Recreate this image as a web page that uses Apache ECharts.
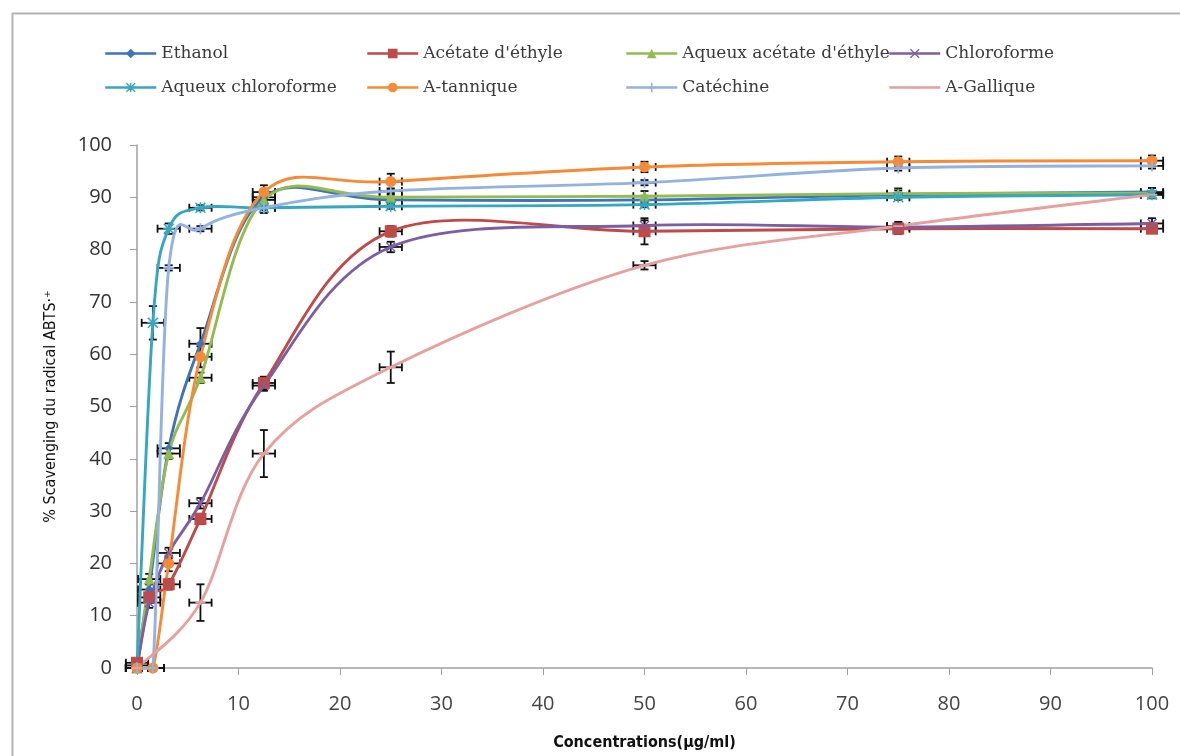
<!DOCTYPE html>
<html><head><meta charset="utf-8">
<script src="https://cdn.jsdelivr.net/npm/echarts@6/dist/echarts.min.js"></script>
<style>html,body{margin:0;padding:0;background:#fff}#c{width:1180px;height:756px}</style>
</head><body><div id="c"></div>
<script>
// ---- data ----
const seriesNames = ['Ethanol', "Acétate d'éthyle", "Aqueux acétate d'éthyle", 'Chloroforme',
  'Aqueux chloroforme', 'A-tannique', 'Catéchine', 'A-Gallique'];

const xExtraits  = [0, 1.2, 3.125, 6.25, 12.5, 25, 50, 75, 100];
const xStandards = [0, 1.5625, 3.125, 6.25, 12.5, 25, 50, 75, 100];
const xGallique  = [0, 6.25, 12.5, 25, 50, 75, 100];

const ethanol        = [0.5, 15, 42, 62, 90, 89.5, 89.5, 90.5, 91];
const acetate        = [1, 13.5, 16, 28.5, 54.5, 83.5, 83.5, 84, 84];
const aqAcetate      = [0, 17, 41, 55.5, 89.5, 90, 90.2, 90.7, 90.8];
const chloroforme    = [0, 12.5, 22, 31.5, 54, 80.5, 84.6, 84.3, 85];
const aqChloroforme  = [0, 66, 84, 88, 88, 88.3, 88.6, 90, 90.5];
const tannique       = [0, 0, 20, 59.5, 91, 93, 95.8, 96.8, 97];
const catechine      = [0, 0, 76.5, 84, 88, 91.2, 92.8, 95.6, 96];
const gallique       = [0, 12.5, 41, 57.5, 77, 84.5, 90.5];

const errEthanol       = [0.5, 1, 1, 3, 1, 1, 0.8, 0.8, 0.8];
const errAcetate       = [0.5, 1, 1, 1, 1.2, 1, 2.5, 1, 0.5];
const errAqAcetate     = [0.5, 1, 1, 1, 1, 1, 1, 1, 1];
const errChloroforme   = [0.5, 1, 1, 1, 1, 1, 1, 1, 1];
const errAqChloroforme = [0.5, 3.2, 1, 0.5, 1, 0.5, 0.5, 0.5, 0.5];
const errTannique      = [0.5, 0.5, 1.5, 2, 1.3, 1.5, 1, 1, 1];
const errCatechine     = [0.5, 0.5, 0.5, 0.5, 0.5, 0.5, 0.5, 0.5, 0.5];
const errGallique      = [0.5, 3.5, 4.5, 3, 0.8, 0.5, 0.5];
const xErrBar = 1.1;

const xTicks = [0, 10, 20, 30, 40, 50, 60, 70, 80, 90, 100];
const yTicks = [0, 10, 20, 30, 40, 50, 60, 70, 80, 90, 100];

// ---- styling ----
const xs = [xExtraits, xExtraits, xExtraits, xExtraits, xStandards, xStandards, xStandards, xGallique];
const ys = [ethanol, acetate, aqAcetate, chloroforme, aqChloroforme, tannique, catechine, gallique];
const es = [errEthanol, errAcetate, errAqAcetate, errChloroforme, errAqChloroforme, errTannique, errCatechine, errGallique];
const colors = ['#3f73ba', '#be4b48', '#93bb52', '#7c5fa3', '#36a7c2', '#f68a36', '#93b1e1', '#e6a19f'];
const SYM_X = 'path://M0,1L1,0L5,4L9,0L10,1L6,5L10,9L9,10L5,6L1,10L0,9L4,5Z';
const SYM_PLUS = 'path://M4.2,0H5.8V4.2H10V5.8H5.8V10H4.2V5.8H0V4.2H4.2Z';
const SYM_AST = 'path://M0,1L1,0L5,4L9,0L10,1L6,5L10,9L9,10L5,6L1,10L0,9L4,5Z M4.3,0H5.7V4.3H10V5.7H5.7V10H4.3V5.7H0V4.3H4.3Z';
const SYM_DASH = 'path://M0,0L0.01,0L0,0.01Z M10,10L9.99,10L10,9.99Z M0,4.1H10V5.9H0Z';
const symbols = ['diamond', 'rect', 'triangle', SYM_X, SYM_AST, 'circle', SYM_PLUS, SYM_DASH];
const symSizes = [9, 12, 11, 10, 11, 11, 11, 10];

function curveRender(xa, ya, color) {
  return function (params, api) {
    const j = params.dataIndex;
    const n = xa.length;
    if (j >= n - 1) return null;
    const p = k => { const kk = Math.max(0, Math.min(n - 1, k)); return api.coord([xa[kk], ya[kk]]); };
    const P0 = p(j - 1), P1 = p(j), P2 = p(j + 1), P3 = p(j + 2);
    const yb = api.coord([0, 0])[1];
    let c1 = [P1[0] + (P2[0] - P0[0]) / 6, P1[1] + (P2[1] - P0[1]) / 6];
    let c2 = [P2[0] - (P3[0] - P1[0]) / 6, P2[1] - (P3[1] - P1[1]) / 6];
    c1[1] = Math.min(c1[1], yb); c2[1] = Math.min(c2[1], yb);
    return {
      type: 'bezierCurve',
      shape: { x1: P1[0], y1: P1[1], x2: P2[0], y2: P2[1], cpx1: c1[0], cpy1: c1[1], cpx2: c2[0], cpy2: c2[1] },
      style: { stroke: color, lineWidth: 2.9, fill: 'none', lineCap: 'round' }
    };
  };
}

function errRender(xa, ya, ea) {
  return function (params, api) {
    const j = params.dataIndex;
    const c = api.coord([xa[j], ya[j]]);
    const t = api.coord([xa[j], ya[j] + ea[j]]);
    const b = api.coord([xa[j], ya[j] - ea[j]]);
    const l = api.coord([xa[j] - xErrBar, ya[j]]);
    const r = api.coord([xa[j] + xErrBar, ya[j]]);
    const w = 4;
    const st = { stroke: '#111', lineWidth: 1.8 };
    const ln = (x1, y1, x2, y2) => ({ type: 'line', shape: { x1, y1, x2, y2 }, style: st });
    return {
      type: 'group', children: [
        ln(c[0], t[1], c[0], b[1]),
        ln(c[0] - w, t[1], c[0] + w, t[1]),
        ln(c[0] - w, b[1], c[0] + w, b[1]),
        ln(l[0], c[1], r[0], c[1]),
        ln(l[0], c[1] - w, l[0], c[1] + w),
        ln(r[0], c[1] - w, r[0], c[1] + w)
      ]
    };
  };
}

const markerSeries = [], curveSeries = [], errSeries = [];
seriesNames.forEach((name, i) => {
  const data = xs[i].map((x, j) => [x, ys[i][j]]);
  markerSeries.push({
    name, type: 'line', data, z: 6,
    symbol: symbols[i], symbolSize: symSizes[i], showAllSymbol: true,
    itemStyle: { color: colors[i], borderWidth: 0 },
    lineStyle: { color: colors[i], width: 2.5, opacity: 0 },
    emphasis: { disabled: true }, silent: true, animation: false
  });
  curveSeries.push({
    name, type: 'custom', data, z: 4, encode: { x: 0, y: 1 },
    renderItem: curveRender(xs[i], ys[i], colors[i]),
    silent: true, animation: false
  });
  errSeries.push({
    name, type: 'custom', data, z: 3, encode: { x: 0, y: 1 },
    renderItem: errRender(xs[i], ys[i], es[i]),
    silent: true, animation: false
  });
});

const legCols = [104, 366, 625, 888];
const legRows = [45, 79];
const legends = seriesNames.map((name, i) => ({
  data: [name], left: legCols[i % 4], top: legRows[Math.floor(i / 4)], padding: 0,
  itemWidth: 51, itemHeight: 12, selectedMode: false,
  lineStyle: { opacity: 1, width: 2.5 },
  textStyle: { fontFamily: 'DejaVu Serif', fontSize: 17, color: '#3a3a3a' }
}));

const chart = echarts.init(document.getElementById('c'));
chart.setOption({
  animation: false,
  backgroundColor: '#fff',
  graphic: [{ type: 'rect', left: 10, top: 11, shape: { width: 1200, height: 800 },
    style: { fill: 'none', stroke: '#b4b4b4', lineWidth: 2 }, silent: true }],
  legend: legends,
  grid: { left: 137, right: 28, top: 145, bottom: 86, containLabel: false },
  xAxis: {
    type: 'value', min: xTicks[0], max: xTicks[xTicks.length - 1], interval: 10,
    name: 'Concentrations(µg/ml)', nameLocation: 'middle', nameGap: 67,
    nameTextStyle: { fontFamily: "'Liberation Sans Narrow', 'DejaVu Sans Condensed', 'Open Sans'", fontWeight: 'bold', fontSize: 16, color: '#111' },
    axisLine: { lineStyle: { color: '#a0a0a0', width: 1.5 } },
    axisTick: { show: true, length: 7, lineStyle: { color: '#a0a0a0' } },
    axisLabel: { margin: 26, fontFamily: 'Open Sans', fontSize: 20, color: '#444' },
    splitLine: { show: false }
  },
  yAxis: {
    type: 'value', min: yTicks[0], max: yTicks[yTicks.length - 1], interval: 10,
    name: '% Scavenging du radical ABTS·⁺', nameLocation: 'middle', nameGap: 78,
    nameTextStyle: { fontFamily: "'Liberation Sans Narrow', 'DejaVu Sans Condensed', 'Open Sans'", fontSize: 16, color: '#111' },
    axisLine: { show: true, lineStyle: { color: '#a0a0a0', width: 1.5 } },
    axisTick: { show: true, length: 7, lineStyle: { color: '#a0a0a0' } },
    axisLabel: { margin: 25, fontFamily: 'Open Sans', fontSize: 20, color: '#333' },
    splitLine: { show: false }
  },
  series: [...markerSeries, ...curveSeries, ...errSeries]
});
</script>
</body></html>
